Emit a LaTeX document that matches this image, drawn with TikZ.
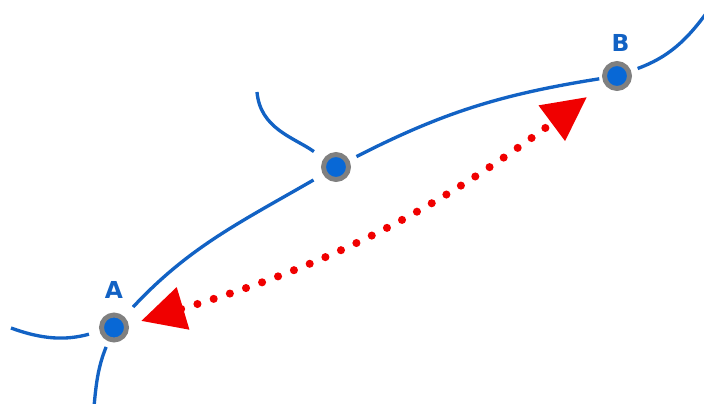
\documentclass[tikz,border=0pt]{standalone}
\usepackage{fontspec}
\setsansfont{DejaVu Sans}
\usepackage{tikz}
\usetikzlibrary{arrows.meta,positioning,shadows}
\definecolor{roadblue}{RGB}{18,98,196}
\definecolor{dotblue}{RGB}{8,104,214}
\definecolor{ringgray}{RGB}{128,128,128}
\definecolor{ptpred}{RGB}{240,0,0}
\tikzset{
  >={Triangle[length=25pt, width=24pt]},
  font=\sffamily,
  junction/.style={circle, fill=dotblue, draw=ringgray, line width=2.8pt,
                   minimum size=0.5cm, inner sep=0pt,
                   circular drop shadow={shadow xshift=0.6pt, shadow yshift=-0.6pt,
                                         shadow scale=1.08, opacity=0.35}},
  road/.style={draw=roadblue, line width=1.9pt},
  dotarr/.style={<->, draw=ptpred, line width=4.6pt, line cap=round,
                 dash pattern=on 0pt off 9.7pt},
  lbl/.style={font=\sffamily\bfseries\fontsize{13.3}{16}\selectfont,
              text=roadblue, inner sep=0pt},
}

\begin{document}
\begin{tikzpicture}[x=0.02cm, y=0.02cm]
  \useasboundingbox (0,0) rectangle (704,403);
  % junctions
  \node[junction] (A) at (114,75.5) {};
  \node[junction] (M) at (336,236) {};
  \node[junction] (B) at (617,327) {};
  \node[lbl, above=0.27cm of A] (labA) {A};
  \node[lbl, above=0.19cm of B, xshift=2] (labB) {B};
  % loose ends of the roads
  \coordinate (mTop) at (257,311);
  \coordinate (aLeft) at (11,75);
  \coordinate (aDown) at (94,-4);
  \coordinate (bEnd) at (710,395);
  % roads
  \draw[road, shorten <=0.26cm, shorten >=0.22cm] (A) to[out=47, in=210] (M);
  \draw[road, shorten <=0.16cm, shorten >=0.06cm] (M) to[out=27, in=189] (B);
  \draw[road, shorten <=0.14cm] (B) to[out=20, in=235] (bEnd);
  \draw[road, shorten >=0.24cm] (mTop) to[out=-85, in=145] (M);
  \draw[road, shorten >=0.22cm] (aLeft) to[out=-20, in=195] (A);
  \draw[road, shorten <=0.12cm] (A) to[out=-112, in=85] (aDown);
  % distance between A and B
  \coordinate (aTip) at (141,82);
  \coordinate (bTip) at (587,306);
  \draw[dotarr] (aTip) to[bend right=10] (bTip);
\end{tikzpicture}
\end{document}
